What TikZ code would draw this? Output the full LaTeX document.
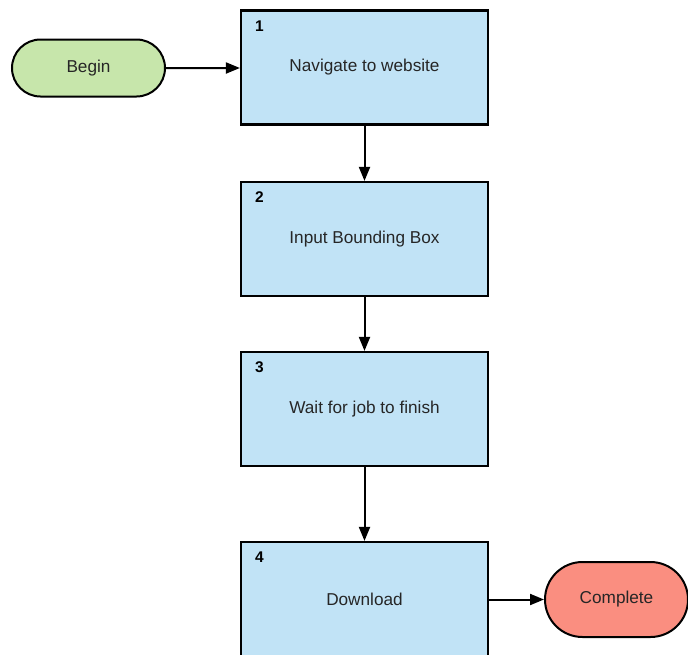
\documentclass[tikz,border=0pt]{standalone}
\usepackage{fontspec}
\setmainfont{Liberation Sans}
\usetikzlibrary{shapes.misc,arrows.meta}
\definecolor{boxblue}{HTML}{C1E3F6}
\definecolor{begingreen}{HTML}{C7E6AB}
\definecolor{endred}{HTML}{FA8E80}
\definecolor{txt}{HTML}{262626}
\begin{document}
\begin{tikzpicture}[x=1pt,y=-1pt,
  stepbox/.style={draw=black,fill=boxblue,line width=2.2pt,minimum width=247pt,minimum height=114pt,inner sep=0pt,
    font=\fontsize{17.2}{20}\selectfont,text=txt},
  terminal/.style={draw=black,line width=2pt,rounded rectangle,inner sep=0pt,
    font=\fontsize{17.2}{20}\selectfont,text=txt},
  numlabel/.style={anchor=north west,inner sep=0pt,font=\fontsize{15.5}{18}\bfseries\selectfont,text=black},
  conn/.style={line width=2pt,-{Triangle[length=14pt,width=11pt]}}]
\useasboundingbox[fill=white] (0,0) rectangle (688,654);
\begin{scope}
\clip (0,0) rectangle (688,654);
\node[stepbox] (s1) at (364.5,67.5) {Navigate to website};
\node[stepbox] (s2) at (364.5,239) {Input Bounding Box};
\node[stepbox] (s3) at (364.5,409) {Wait for job to finish};
\node[stepbox] (s4) at (364.5,599) {Download};
\node[numlabel] (n1) at ([xshift=15pt,yshift=-11pt]s1.north west) {1};
\node[numlabel] (n2) at ([xshift=15pt,yshift=-11pt]s2.north west) {2};
\node[numlabel] (n3) at ([xshift=15pt,yshift=-11pt]s3.north west) {3};
\node[numlabel] (n4) at ([xshift=15pt,yshift=-11pt]s4.north west) {4};
\node[terminal,fill=begingreen,minimum width=153pt,minimum height=57pt] (begin) at (88.5,68) {Begin};
\node[terminal,fill=endred,minimum width=143pt,minimum height=75pt] (end) at (616.5,599.5) {Complete};
\draw[conn] (begin) -- (s1.west |- begin);
\draw[conn] (s1) -- (s2);
\draw[conn] (s2) -- (s3);
\draw[conn] (s3) -- (s4);
\draw[conn] (s4.east |- end) -- (end);
\end{scope}
\end{tikzpicture}
\end{document}
